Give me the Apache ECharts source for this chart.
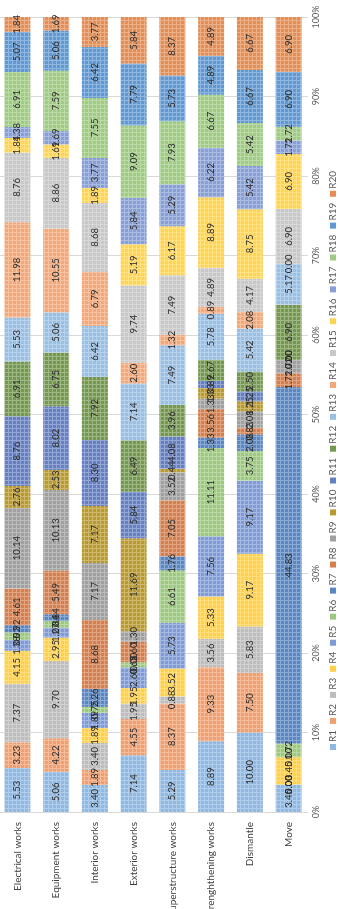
<!DOCTYPE html>
<html>
<head>
<meta charset="utf-8">
<script src="https://cdn.jsdelivr.net/npm/echarts@6/dist/echarts.min.js"></script>
<style>
  html, body { margin: 0; padding: 0; background: #fff; }
  #chart { width: 338px; height: 909px; }
</style>
</head>
<body>
<div id="chart"></div>
<script>
// categories, left to right
let categories = ['Electrical works', 'Equipment works', 'Interior works', 'Exterior works',
  'Superstructure works', 'Strenghthening works', 'Dismantle', 'Move'];
let seriesNames = ['R1','R2','R3','R4','R5','R6','R7','R8','R9','R10',
  'R11','R12','R13','R14','R15','R16','R17','R18','R19','R20'];

// share of each R (percent), one row per category
let electrical = [5.53,3.23,7.37,4.15,1.38,0.92,0.92,4.61,10.14,2.76,8.76,6.91,5.53,11.98,8.76,1.84,1.38,6.91,5.07,1.84];
let equipment = [5.06,4.22,9.70,2.95,1.27,0.84,0.84,5.49,10.13,2.53,8.02,6.75,5.06,10.55,8.86,1.69,1.69,7.59,5.06,1.69];
let interior = [3.40,1.89,3.40,1.89,1.89,0.75,2.26,8.68,7.17,7.17,8.30,7.92,6.42,6.79,8.68,1.89,3.77,7.55,6.42,3.77];
let exterior = [7.14,4.55,1.95,1.95,2.60,0.65,0.00,2.60,1.30,11.69,5.84,6.49,7.14,2.60,9.74,5.19,5.84,9.09,7.79,5.84];
let superstructure = [5.29,8.37,0.88,3.52,5.73,6.61,1.76,7.05,3.52,0.44,4.08,3.96,7.49,1.32,7.49,6.17,5.29,7.93,5.73,8.37];
let strengthening = [8.89,9.33,3.56,5.33,7.56,11.11,1.33,3.56,1.33,1.33,0.89,2.67,5.78,0.89,4.89,8.89,6.22,6.67,4.89,4.89];
let dismantle = [10.00,7.50,5.83,9.17,9.17,3.75,2.08,0.83,2.08,1.25,1.25,2.50,5.42,2.08,4.17,8.75,5.42,5.42,6.67,6.67];
let move = [3.45,0.00,0.00,3.45,0.00,1.72,44.83,1.72,1.72,0.00,0.00,6.90,5.17,0.00,6.90,6.90,1.72,1.72,6.90,6.90];

let rows = [electrical, equipment, interior, exterior, superstructure, strengthening, dismantle, move];
let valueTicks = [0, 100, 10];

let colors = ['#8fb9e2','#f0a070','#bdbdbd','#ffd04a','#7f9bd6','#9cc97f','#5a86c2','#d47f4e','#a0a0a0','#b99a30',
  '#6580c2','#74984f','#9abfe4','#f2a879','#c8c8c8','#ffd452','#879fd6','#9fcb82','#5f98d2','#e48e56'];

// small white grid like the excel pattern fill
function gridFill(c) {
  let cv = document.createElement('canvas');
  cv.width = 4; cv.height = 4;
  let ctx = cv.getContext('2d');
  ctx.fillStyle = c;
  ctx.fillRect(0, 0, 4, 4);
  ctx.fillStyle = 'rgba(255,255,255,0.3)';
  ctx.fillRect(0, 0, 4, 1);
  ctx.fillRect(0, 1, 1, 3);
  return { image: cv, repeat: 'repeat' };
}

let chart = echarts.init(document.getElementById('chart'));

let series = seriesNames.map(function(name, i) {
  return {
    name: name,
    type: 'bar',
    stack: 'total',
    barWidth: 26,
    itemStyle: { color: gridFill(colors[i]) },
    label: {
      show: true,
      position: 'inside',
      rotate: 90,
      fontFamily: 'Lato',
      fontSize: 9.5,
      color: '#2b2b2b',
      formatter: function(p) { return p.value.toFixed(2); }
    },
    data: rows.map(function(r) { return r[i]; })
  };
});

// legend: rotated row, R1 at the bottom
let measure = document.createElement('canvas').getContext('2d');
measure.font = '10px Lato';
let legendItems = [];
let pos = 0;
seriesNames.forEach(function(name, i) {
  legendItems.push({ type: 'rect', shape: { x: pos, y: -3, width: 6, height: 6 }, style: { fill: colors[i] } });
  legendItems.push({ type: 'text', x: pos + 8, y: 0,
    style: { text: name, font: '10px Lato', fill: '#595959', verticalAlign: 'middle', align: 'left' } });
  pos += 8 + measure.measureText(name).width + 6;
});

chart.setOption({
  animation: false,
  grid: { left: -2, width: 310, top: 17, bottom: 97, outerBoundsMode: 'none', containLabel: false },
  xAxis: {
    type: 'category',
    data: categories,
    axisLine: { lineStyle: { color: '#d9d9d9' } },
    axisTick: { show: false },
    axisLabel: {
      rotate: 90,
      margin: 10,
      interval: 0,
      fontFamily: 'Lato',
      fontSize: 10,
      color: '#404040'
    }
  },
  yAxis: {
    type: 'value',
    position: 'right',
    min: valueTicks[0],
    max: valueTicks[1],
    interval: valueTicks[2],
    axisLine: { show: false },
    axisTick: { show: false },
    splitLine: { lineStyle: { color: '#d9d9d9' } },
    axisLabel: {
      rotate: 90,
      margin: 4,
      align: 'center',
      verticalAlign: 'top',
      fontFamily: 'Lato',
      fontSize: 9,
      color: '#595959',
      formatter: '{value}%'
    }
  },
  graphic: [{
    type: 'group',
    x: 333,
    y: 750,
    rotation: Math.PI / 2,
    children: legendItems
  }],
  series: series
});
</script>
</body>
</html>
